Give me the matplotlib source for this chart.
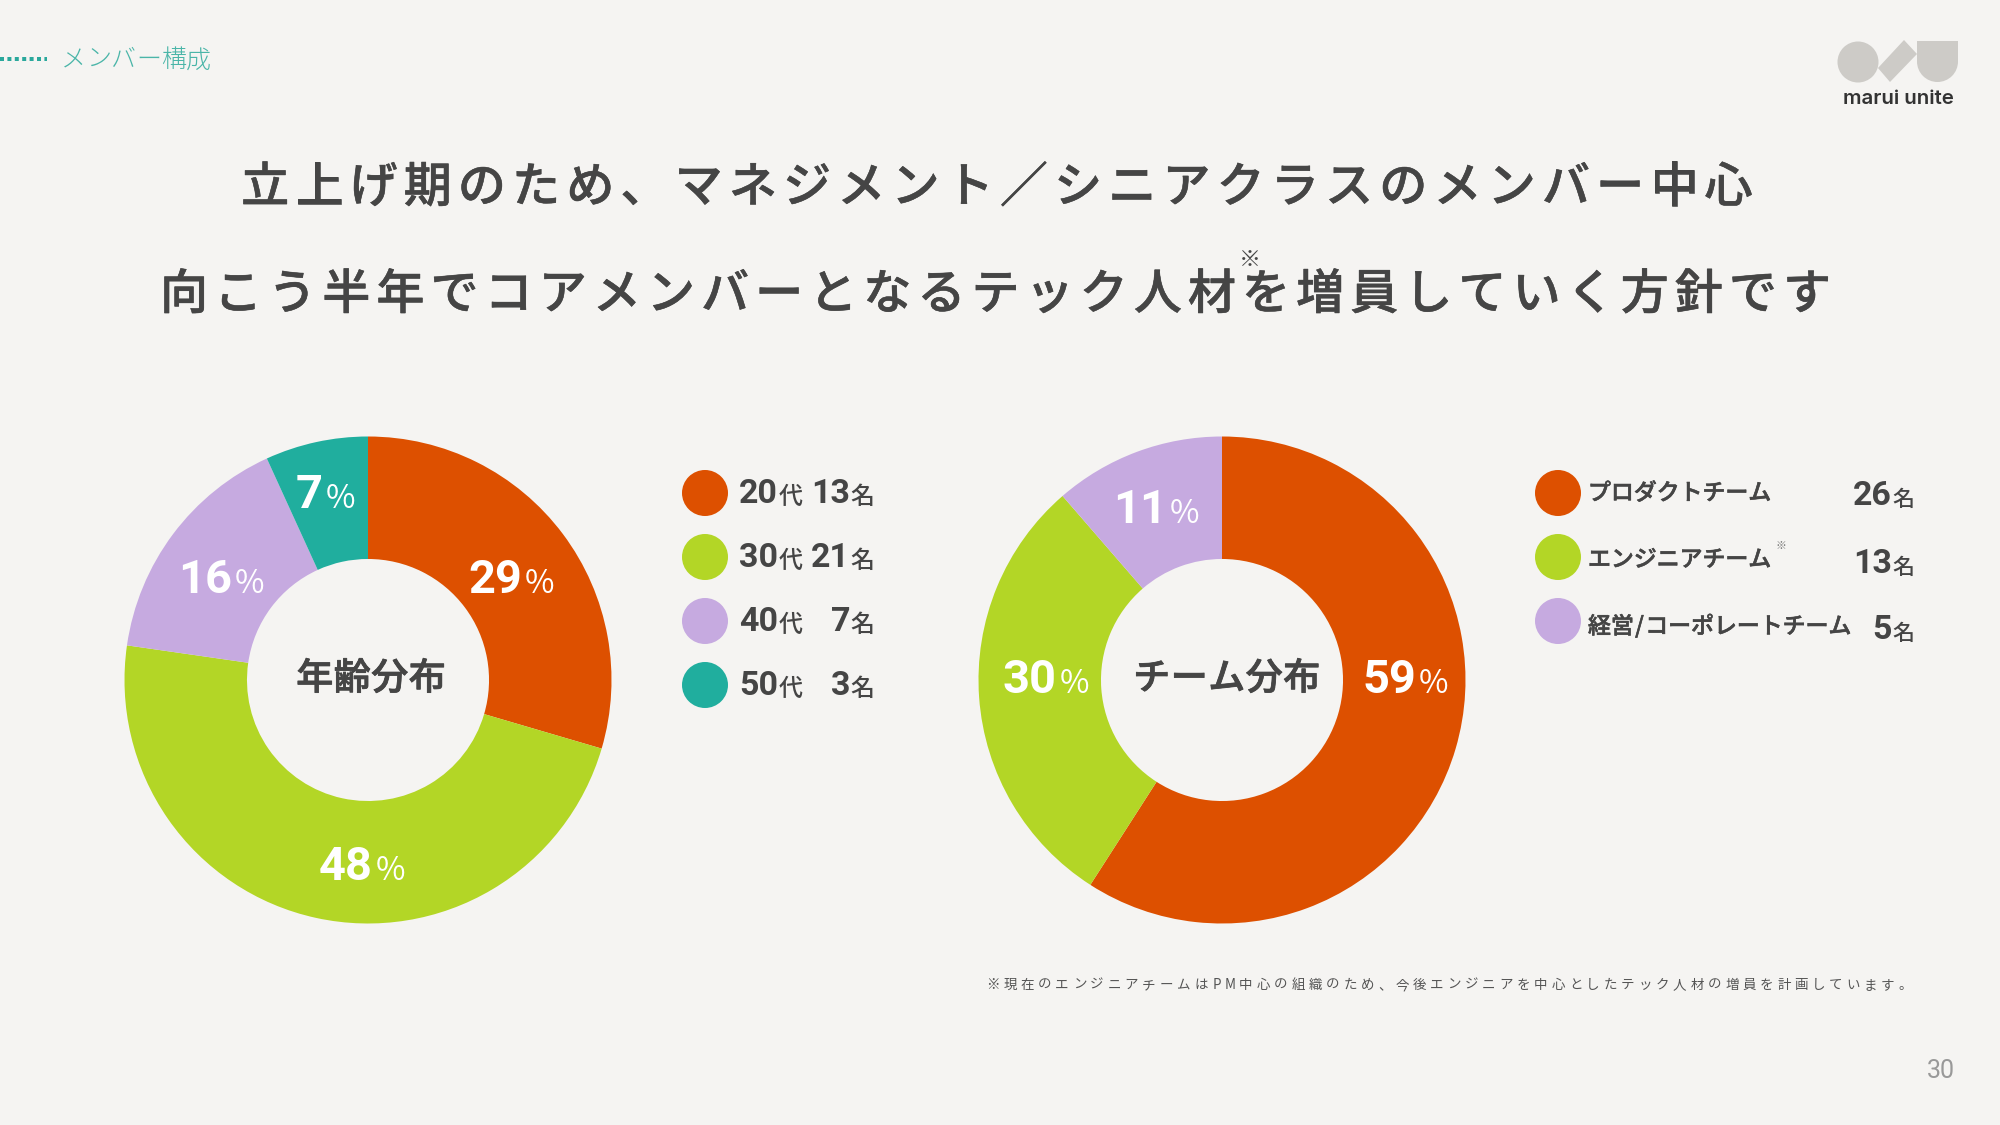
#!/usr/bin/env python
import matplotlib
matplotlib.use("Agg")
import matplotlib.pyplot as plt
import matplotlib.patheffects as pe
from matplotlib.patches import Circle, Polygon, Wedge, Rectangle

JP = ["Noto Sans CJK JP", "DejaVu Sans"]
NUM = ["Roboto", "Noto Sans CJK JP"]

BG = "#f5f4f2"
DARK = "#454545"
ORANGE = "#dd5000"
GREEN = "#b3d626"
PURPLE = "#c6aae0"
TEAL = "#20ae9e"

# ---- data ----
age_groups = ["20", "30", "40", "50"]
age_counts = [13, 21, 7, 3]
age_pct = [29, 48, 16, 7]
age_colors = [ORANGE, GREEN, PURPLE, TEAL]

team_names = ["プロダクトチーム", "エンジニアチーム", "経営/コーポレートチーム"]
team_counts = [26, 13, 5]
team_pct = [59, 30, 11]
team_colors = [ORANGE, GREEN, PURPLE]

title_1 = "立上げ期のため、マネジメント／シニアクラスのメンバー中心"
title_2 = "向こう半年でコアメンバーとなるテック人材を増員していく方針です"
note = "※現在のエンジニアチームはPM中心の組織のため、今後エンジニアを中心としたテック人材の増員を計画しています。"

W, H = 2000, 1125
fig = plt.figure(figsize=(20, 11.25), dpi=100, facecolor=BG)

def px(p):
    return p * 72 / 100

def donut(cx, cy, r, vals, cols):
    a = fig.add_axes([(cx - r) / W, 1 - (cy + r) / H, 2 * r / W, 2 * r / H])
    a.pie(vals, colors=cols, startangle=90, counterclock=False, radius=1,
          wedgeprops=dict(width=0.503, linewidth=0))
    a.set_xlim(-1, 1); a.set_ylim(-1, 1)
    a.axis("off")
    return a

donut(368, 680, 243.5, age_counts, age_colors)
donut(1222, 680, 243.5, team_counts, team_colors)

# overlay in pixel coordinates for all the text
ax = fig.add_axes([0, 0, 1, 1], zorder=5)
ax.set_xlim(0, W); ax.set_ylim(H, 0)
ax.axis("off")

def spaced(x, y, s, size, pitch, color=DARK, weight="normal", stroke=0):
    # place glyphs one by one, matplotlib has no letter spacing
    for ch in s:
        adv = pitch * 0.5 if ch == "/" else pitch * 0.8 if ch.isascii() else pitch
        t = ax.text(x + adv / 2, y, ch, fontsize=px(size), color=color, weight=weight,
                    family=JP, ha="center", va="center")
        if stroke:
            # thicken the regular cut a little
            t.set_path_effects([pe.withStroke(linewidth=stroke, foreground=color)])
        x += adv

# header
ax.plot([0, 47], [59, 59], color="#2aa89c", lw=px(4), ls=(0, (1, 0.85)))
spaced(61, 60, "メンバー構成", 25, 25, color="#4ab5a8", weight="light")

# logo
LOGO = "#cdcbc7"
ax.add_patch(Circle((1858, 62), 20.5, color=LOGO, lw=0))
ax.add_patch(Polygon([(1904, 40), (1917, 54), (1890, 82), (1878, 68)], color=LOGO, lw=0))
ax.add_patch(Rectangle((1917, 41), 41, 20.5, color=LOGO, lw=0))
ax.add_patch(Wedge((1937.5, 61.5), 20.5, 0, 180, color=LOGO, lw=0))
ax.text(1898, 98.5, "marui unite", fontsize=px(20.5), weight="semibold", family="Inter",
        color="#333333", ha="center", va="center")

# titles
spaced(238, 188.5, title_1, 48, 54.2, weight=500, stroke=0.4)
spaced(157, 295.5, title_2, 48, 54.1, weight=500, stroke=0.4)
ax.text(1250, 260, "※", fontsize=px(22), color=DARK, family=JP, ha="center", va="center")

def pct(x_end, base, v):
    ax.text(x_end, base, str(v), fontsize=px(47), weight="bold", family=NUM, color="white",
            ha="right", va="baseline")
    ax.text(x_end + 3, base, "%", fontsize=px(32), family="Noto Sans CJK JP", color="white",
            ha="left", va="baseline")

for x_end, base, v in zip([522, 373, 232, 323], [593, 880, 593, 508], age_pct):
    pct(x_end, base, v)
for x_end, base, v in zip([1416, 1057, 1167], [693, 693, 523], team_pct):
    pct(x_end, base, v)

spaced(296, 678.5, "年齢分布", 37, 37.5, weight=500, stroke=0.6)
spaced(1133, 678.5, "チーム分布", 37, 37.5, weight=500, stroke=0.6)

# age legend
for y, g, n, c in zip([493, 557, 621, 685], age_groups, age_counts, age_colors):
    ax.add_patch(Circle((705, y), 23, color=c, lw=0))
    ax.text(778, y + 10, g, fontsize=px(34), weight="bold", family=NUM, color=DARK, ha="right", va="baseline")
    ax.text(779, y + 11, "代", fontsize=px(24), weight=500, family=JP, color=DARK, ha="left", va="baseline")
    ax.text(850, y + 10, str(n), fontsize=px(34), weight="bold", family=NUM, color=DARK, ha="right", va="baseline")
    ax.text(850, y + 11, "名", fontsize=px(24), weight=500, family=JP, color=DARK, ha="left", va="baseline")

# team legend
for y, ty, base, t, n, c in zip([493, 557, 621], [493.5, 560, 627], [505, 573, 639], team_names, team_counts, team_colors):
    ax.add_patch(Circle((1558, y), 23, color=c, lw=0))
    spaced(1588, ty, t, 23, 22.9, weight=500, stroke=0.4)
    ax.text(1892, base, str(n), fontsize=px(34), weight="bold", family=NUM, color=DARK, ha="right", va="baseline")
    ax.text(1892, base + 1, "名", fontsize=px(22), weight=500, family=JP, color=DARK, ha="left", va="baseline")
ax.text(1781, 546, "※", fontsize=px(11), color="#777777", family=JP, ha="center", va="center")

# footnote, page number
spaced(984, 985, note, 13.5, 17.35, color="#555555")
ax.text(1955, 1071.5, "30", fontsize=px(25), family=NUM, color="#999999", ha="right", va="center")

fig.savefig("out.png", dpi=100, facecolor=BG)
